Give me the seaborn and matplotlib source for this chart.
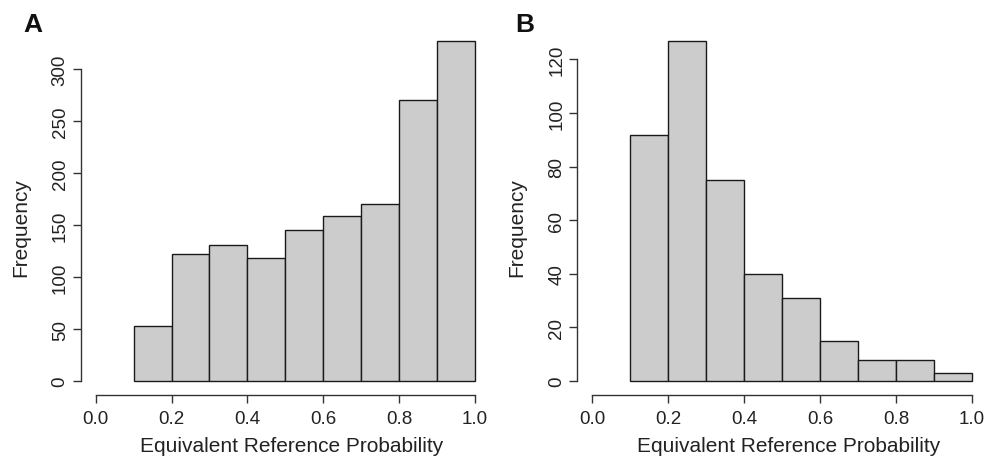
import numpy as np
import pandas as pd
import matplotlib
matplotlib.use("Agg")
import matplotlib.pyplot as plt
import seaborn as sns

# ---- data ----
breaks = [0.1, 0.2, 0.3, 0.4, 0.5, 0.6, 0.7, 0.8, 0.9, 1.0]
counts_a = [53, 122, 131, 118, 145, 159, 170, 270, 327]
counts_b = [92, 127, 75, 40, 31, 15, 8, 8, 3]
xticks = [0.0, 0.2, 0.4, 0.6, 0.8, 1.0]
xticklabels = ["0.0", "0.2", "0.4", "0.6", "0.8", "1.0"]
yticks_a = [0, 50, 100, 150, 200, 250, 300]
yticks_b = [0, 20, 40, 60, 80, 100, 120]
panel_letters = ["A", "B"]
xlabel = "Equivalent Reference Probability"
ylabel = "Frequency"

sns.set_style("white")
plt.rcParams["font.family"] = ["Liberation Sans", "DejaVu Sans"]

fig = plt.figure(figsize=(9.99, 4.60), dpi=100)
ax_a = fig.add_axes([0.0806, 0.1398, 0.4101, 0.7991])
ax_b = fig.add_axes([0.5777, 0.1398, 0.4105, 0.7991])

axis_col = "#333333"
text_col = "#222222"

def panel(ax, counts, yticks):
    centers = [(breaks[i] + breaks[i + 1]) / 2 for i in range(len(counts))]
    df = pd.DataFrame({"x": centers, "w": counts})
    sns.histplot(data=df, x="x", weights="w", bins=breaks, ax=ax,
                 color="#cccccc", edgecolor="#1a1a1a", linewidth=1.0,
                 alpha=1.0, element="bars")
    ymax = max(counts)
    ax.set_xlim(-0.04, 1.04)
    ax.set_ylim(-0.04 * ymax, 1.04 * ymax)
    ax.set_xticks(xticks)
    ax.set_xticklabels(xticklabels)
    ax.set_yticks(yticks)
    ax.set_yticklabels([str(t) for t in yticks], rotation=90, va="center")
    for s in ["top", "right"]:
        ax.spines[s].set_visible(False)
    ax.spines["left"].set_bounds(yticks[0], yticks[-1])
    ax.spines["bottom"].set_bounds(xticks[0], xticks[-1])
    for s in ["left", "bottom"]:
        ax.spines[s].set_color(axis_col)
        ax.spines[s].set_linewidth(1.0)
    ax.tick_params(axis="both", which="major", length=6, width=1.0,
                   color=axis_col, labelsize=13.5, labelcolor=text_col,
                   direction="out", left=True, bottom=True)
    ax.tick_params(axis="x", pad=5)
    ax.tick_params(axis="y", pad=2.5)
    ax.set_xlabel(xlabel, fontsize=15, color=text_col)
    ax.set_ylabel(ylabel, fontsize=15, color=text_col)
    ax.xaxis.set_label_coords(0.515, -0.139)
    ax.xaxis.label.set_va("center")
    ax.yaxis.set_label_coords(-0.147, 0.4576)
    ax.yaxis.label.set_va("center")
    ax.grid(False)
    return ax

panel(ax_a, counts_a, yticks_a)
panel(ax_b, counts_b, yticks_b)

fig.text(33 / 999, 1 - 25 / 460, panel_letters[0], fontsize=19, fontweight="bold",
         ha="center", va="center", color="#111111")
fig.text(525 / 999, 1 - 25 / 460, panel_letters[1], fontsize=19, fontweight="bold",
         ha="center", va="center", color="#111111")

fig.savefig("out.png", dpi=100)
